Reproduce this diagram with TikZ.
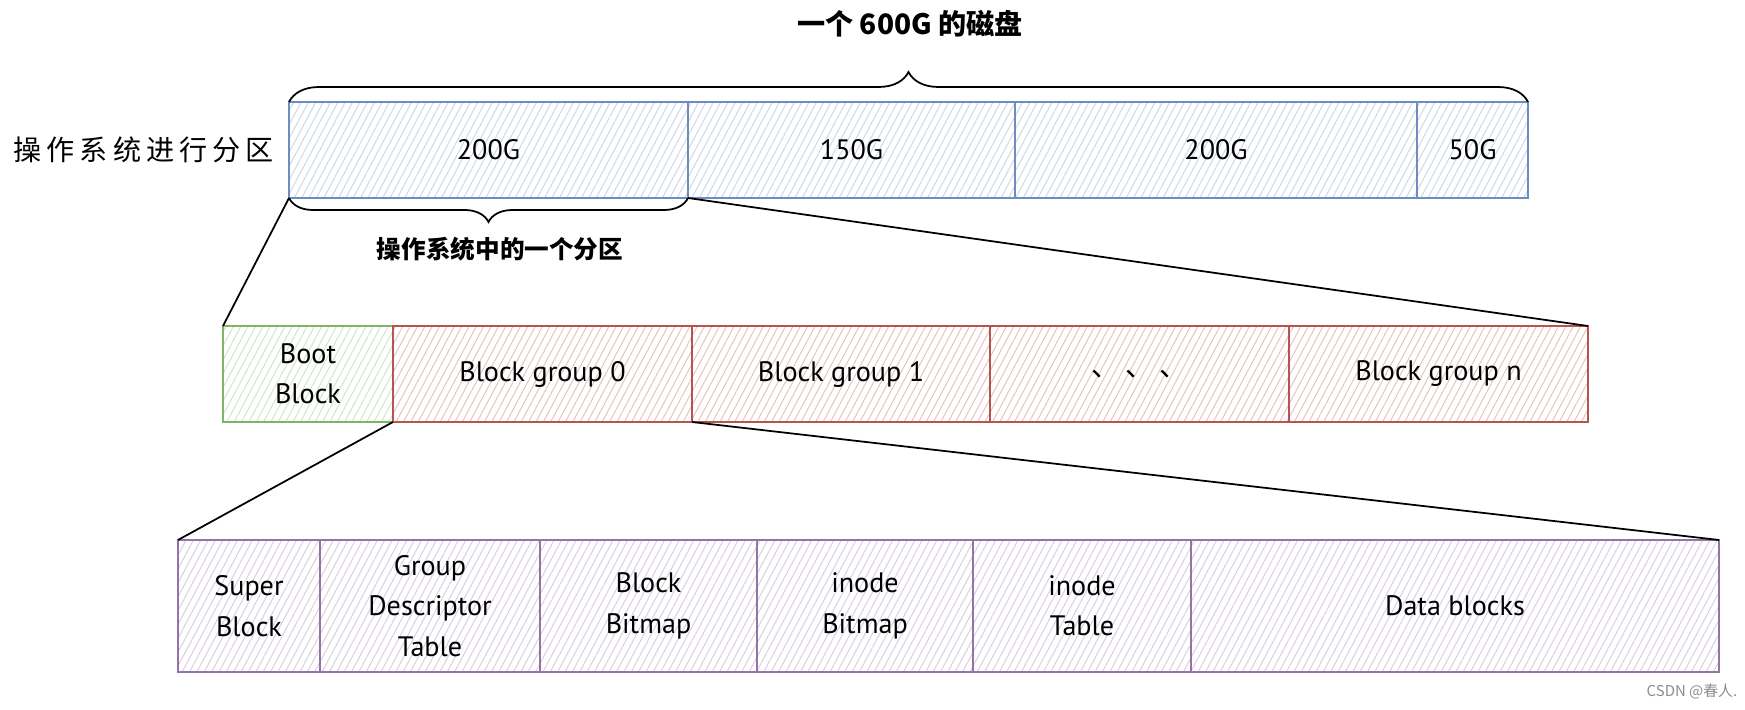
\documentclass[tikz,border=0pt]{standalone}
\usepackage{fontspec}
\setmainfont{PT Sans}
\newfontfamily\cjk{Noto Sans CJK SC}
\newfontfamily\cjkwide[LetterSpace=18]{Noto Sans CJK SC}
\usepackage{xcolor}
\usetikzlibrary{positioning,patterns.meta,decorations.pathreplacing}
\definecolor{partblue}{HTML}{6C8EBF}
\definecolor{bootgreen}{HTML}{82B366}
\definecolor{groupred}{HTML}{B85450}
\definecolor{inpurple}{HTML}{9673A6}

\begin{document}
\begin{tikzpicture}[x=0.2mm,y=-0.2mm,
every node/.style={align=center, inner sep=0pt, outer sep=0pt,
    font=\fontsize{16}{23}\selectfont},
cell/.style={draw=#1, line width=0.4mm,
    pattern={Lines[angle=62,distance=1.3mm,line width=0.2mm]},
    pattern color=#1!35, minimum height=19.2mm},
tall/.style={minimum height=26.4mm},
link/.style={black, line width=0.35mm},
bracket/.style={black, line width=0.35mm, decorate},
boldcjk/.style={font=\cjk\bfseries\fontsize{#1}{#1}\selectfont}]
\useasboundingbox (0,0) rectangle (1745,710);

\node[cell=partblue, minimum width=79.8mm, anchor=north west] (p1) at (289,102) {200G};
\node[cell=partblue, minimum width=65.4mm, right=0pt of p1] (p2) {150G};
\node[cell=partblue, minimum width=80.4mm, right=0pt of p2] (p3) {200G};
\node[cell=partblue, minimum width=22.2mm, right=0pt of p3] (p4) {50G};
\node[left=3mm of p1, font=\cjkwide\fontsize{16}{18}\selectfont] (oslabel) {操作系统进行分区};

\draw[bracket, decoration={brace, amplitude=6mm}] (p1.north west) -- (p4.north east)
  coordinate[midway] (disktip);
\node[boldcjk=16] (disk) at (910,24) {一个 600G 的磁盘};
\draw[bracket, decoration={brace, amplitude=4.8mm, mirror}] (p1.south west) -- (p1.south east);
\node[boldcjk=14] (onepart) at (500,249) {操作系统中的一个分区};

\node[cell=bootgreen, minimum width=34mm, anchor=north west] (boot) at (223,326) {Boot\\Block};
\node[cell=groupred, minimum width=59.8mm, right=0pt of boot] (bg0) {Block group 0};
\node[cell=groupred, minimum width=59.6mm, right=0pt of bg0] (bg1) {Block group 1};
\node[cell=groupred, minimum width=59.8mm, right=0pt of bg1, font=\cjk\fontsize{16}{23}\selectfont] (dots) {、 、 、};
\node[cell=groupred, minimum width=59.8mm, right=0pt of dots] (bgn) {Block group n};

\draw[link] (p1.south west) -- (boot.north west);
\draw[link] (p1.south east) -- (bgn.north east);

\node[cell=inpurple, tall, minimum width=28.4mm, anchor=north west] (sb) at (178,540) {Super\\Block};
\node[cell=inpurple, tall, minimum width=44mm, right=0pt of sb] (gdt) {Group\\Descriptor\\Table};
\node[cell=inpurple, tall, minimum width=43.4mm, right=0pt of gdt] (bbm) {Block\\Bitmap};
\node[cell=inpurple, tall, minimum width=43.2mm, right=0pt of bbm] (ibm) {inode\\Bitmap};
\node[cell=inpurple, tall, minimum width=43.6mm, right=0pt of ibm] (itab) {inode\\Table};
\node[cell=inpurple, tall, minimum width=105.6mm, right=0pt of itab] (data) {Data blocks};

\draw[link] (bg0.south west) -- (sb.north west);
\draw[link] (bg0.south east) -- (data.north east);

\node[font=\cjk\fontsize{8.5}{10}\selectfont, text=black!45] (mark) at (1692,692) {CSDN @春人.};
\end{tikzpicture}
\end{document}
